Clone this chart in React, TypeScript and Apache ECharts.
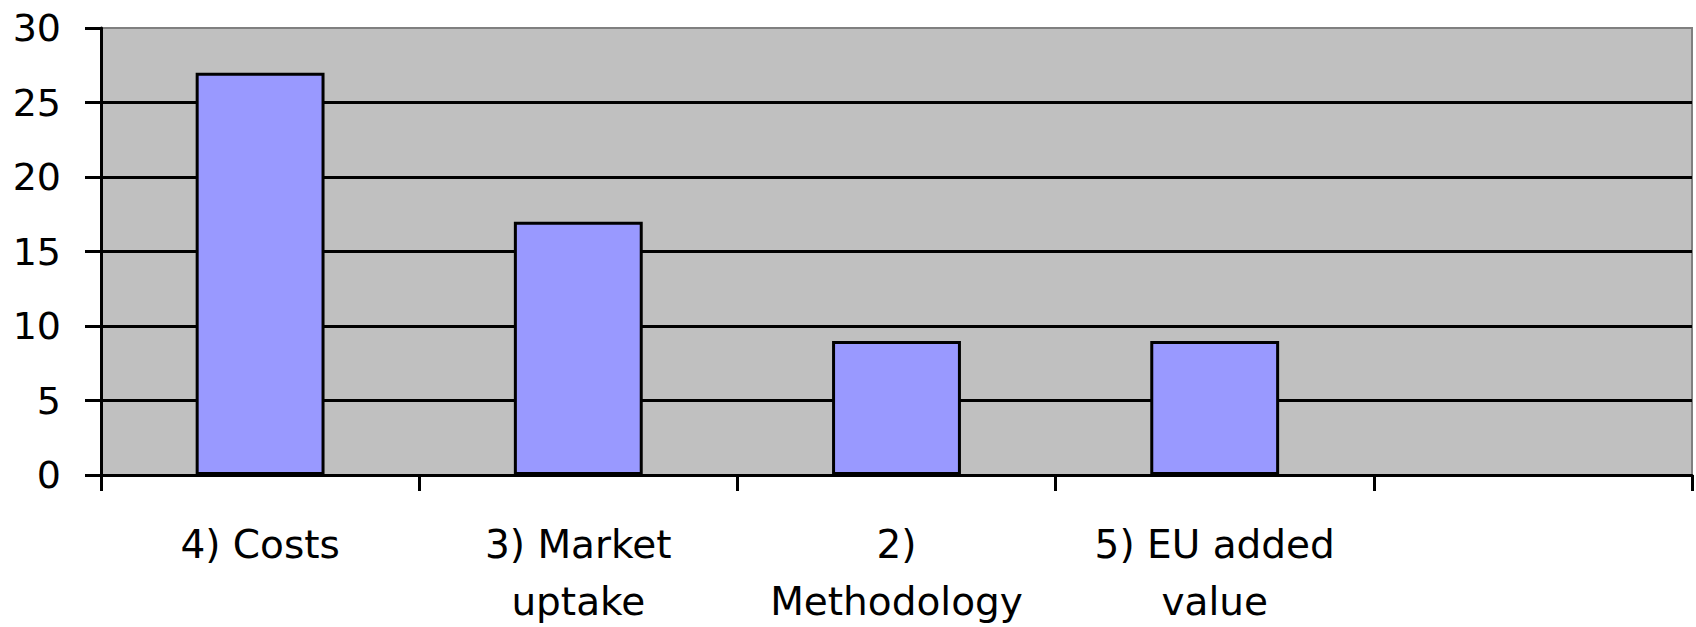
import React, { useEffect, useRef } from "react";
import * as echarts from "echarts";

const categories: string[] = ["4) Costs", "3) Market\nuptake", "2)\nMethodology", "5) EU added\nvalue", ""];
const values: (number | null)[] = [27, 17, 9, 9, null];
const yTicks = { min: 0, max: 30, interval: 5 };

const FONT = "'DejaVu Sans', sans-serif";

export default function App() {
  const ref = useRef<HTMLDivElement>(null);
  useEffect(() => {
    document.body.style.margin = "0";
    if (!ref.current) return;
    const chart = echarts.init(ref.current, null, { renderer: "svg" });
    chart.setOption({
      animation: false,
      backgroundColor: "#ffffff",
      grid: {
        left: 101,
        right: 4,
        top: 28,
        bottom: 152,
        containLabel: false,
        outerBoundsMode: "none",
        show: true,
        backgroundColor: "#c0c0c0",
        borderColor: "#808080",
        borderWidth: 2,
      },
      xAxis: {
        type: "category",
        data: categories,
        boundaryGap: true,
        axisLine: { show: true, lineStyle: { color: "#000", width: 3 } },
        axisTick: { show: true, alignWithLabel: false, length: 16, lineStyle: { color: "#000", width: 3 } },
        axisLabel: {
          interval: 0,
          margin: 41,
          fontSize: 39,
          lineHeight: 57,
          color: "#000",
          fontFamily: FONT,
          align: "center",
        },
        splitLine: { show: false },
      },
      yAxis: {
        type: "value",
        min: yTicks.min,
        max: yTicks.max,
        interval: yTicks.interval,
        axisLine: { show: true, lineStyle: { color: "#000", width: 3 } },
        axisTick: { show: true, length: 16, lineStyle: { color: "#000", width: 3 } },
        axisLabel: { margin: 40, fontSize: 38, color: "#000", fontFamily: FONT, padding: [0, 0, 4, 0] },
        splitLine: { show: true, showMaxLine: false, lineStyle: { color: "#000", width: 3 } },
      },
      series: [
        {
          type: "bar",
          data: values,
          barWidth: "40.5%",
          itemStyle: { color: "#9999ff", borderColor: "#000", borderWidth: 3 },
        },
      ],
    });
    return () => chart.dispose();
  }, []);
  return <div ref={ref} style={{ width: 1696, height: 627 }} />;
}
